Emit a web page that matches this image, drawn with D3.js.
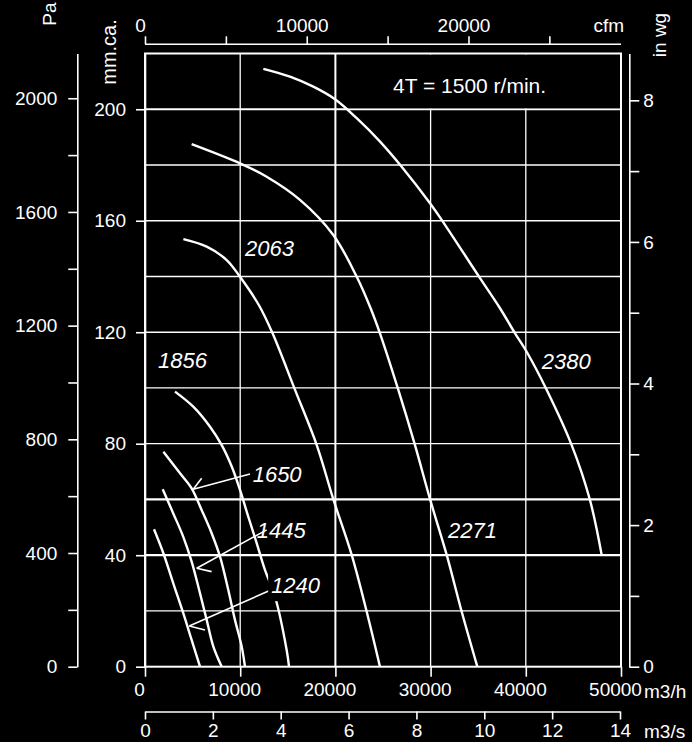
<!DOCTYPE html>
<html>
<head>
<meta charset="utf-8">
<script src="https://cdn.jsdelivr.net/npm/d3@7"></script>
<style>
body { margin: 0; background: #000; }
svg text { fill: #fff; font-family: "Liberation Sans", Arial, sans-serif; }
</style>
</head>
<body>
<div id="graph"></div>
<script>
// fan curves: [flow m3/h, pressure mm.ca.]
var curve_1240 = [[945,49.3],[1930,40.7],[2970,29.9],[4020,19.2],[4900,9.6],[5780,0]];
var curve_1445 = [[1860,63.7],[2970,55],[4020,46.6],[4900,37.7],[5780,26.3],[6480,16.8],[7180,7.2],[8060,0]];
var curve_1650 = [[1930,77.1],[3680,69.4],[4900,64],[5950,56.2],[7000,47.9],[7880,39.5],[8750,27.5],[9450,16.8],[10160,7.2],[10500,0]];
var curve_1856 = [[3150,98.7],[5070,93.3],[6830,86.1],[8060,79.5],[9110,71.8],[9980,63.4],[10850,53.8],[11730,44.3],[12600,34.7],[13660,25.1],[14880,6],[15130,0]];
var curve_2063 = [[4030,153.4],[6480,150.7],[8580,145.9],[9980,139.9],[12000,129.5],[13400,119.6],[15760,99.3],[18040,79.5],[19780,60.1],[21710,40.1],[23290,19.7],[24680,0]];
var curve_2271 = [[4900,187.5],[9980,180.6],[12780,175.8],[16280,167.5],[19780,154.9],[22240,139.9],[23700,128.6],[24680,119.6],[26610,99.3],[28360,79.5],[29940,60.1],[31690,40.1],[33270,19.7],[34910,0]];
var curve_2380 = [[12430,214.5],[15230,211.7],[17680,208.1],[19960,203.6],[22240,196.8],[24690,188.4],[26960,179.4],[29940,166.3],[31160,160.3],[35190,139.4],[37290,128.6],[38870,119.6],[40090,113],[42200,99.3],[44820,79.5],[46740,59.8],[47970,40.1]];

var curves = [curve_1240, curve_1445, curve_1650, curve_1856, curve_2063, curve_2271, curve_2380];
var speeds = ["1240", "1445", "1650", "1856", "2063", "2271", "2380"];
// where each speed label sits (text start, baseline), in m3/h and mm.ca.
var label_at = [[13250,26.4],[11750,46.3],[11310,66.4],[1360,107.3],[10500,147.4],[31830,46.2],[41680,106.7]];

// leader lines for the three small curves: start, tip, barb
var arrow_from = [[14000,28.7],[12780,49.1],[11030,69.1]];
var arrow_tip = [[4650,14.6],[5430,35.3],[5070,63.7]];
var arrow_barb = [[6300,13.2],[7000,34.1],[5950,67.6]];

var title = "4T = 1500 r/min.";

var flow_ticks = [0, 10000, 20000, 30000, 40000, 50000];
var mm_ticks = [0, 40, 80, 120, 160, 200];
var grid_h = [20, 40, 60, 80, 100, 120, 140, 160, 180, 200];
var grid_v = [10000, 20000, 30000, 40000];
var pa_ticks = d3.range(0, 2001, 200);
var inwg_ticks = d3.range(0, 9, 1);
var cfm_ticks = d3.range(0, 25001, 5000);
var m3s_ticks = d3.range(0, 15, 2);

var width = 692, height = 742;
var svg = d3.select('#graph').append('svg')
  .attr('width', width)
  .attr('height', height);

svg.append('rect').attr('width', width).attr('height', height).attr('fill', '#000');

var x = d3.scaleLinear().domain([0, 50000]).range([145, 621]);
var y = d3.scaleLinear().domain([0, 220]).range([666.7, 53.5]);
var x_cfm = d3.scaleLinear().domain([0, 50000 / 1.699]).range(x.range());
var x_m3s = d3.scaleLinear().domain([0, 14]).range([145, 620]);
var y_pa = d3.scaleLinear().domain([0, 220 * 9.80665]).range(y.range());
var y_inwg = d3.scaleLinear().domain([0, 220 / 25.4]).range(y.range());

var thick_h = [40, 60, 200];

// grid
svg.append('g').selectAll('line')
  .data(grid_h)
  .enter().append('line')
    .attr('x1', x(0)).attr('x2', x(50000))
    .attr('y1', function (d) { return y(d); })
    .attr('y2', function (d) { return y(d); })
    .attr('stroke', '#fff')
    .attr('stroke-width', function (d) { return thick_h.indexOf(d) >= 0 ? 2.2 : 1.3; });

svg.append('g').selectAll('line')
  .data(grid_v)
  .enter().append('line')
    .attr('x1', function (d) { return x(d); })
    .attr('x2', function (d) { return x(d); })
    .attr('y1', y(0)).attr('y2', y(220))
    .attr('stroke', '#fff')
    .attr('stroke-width', function (d) { return d === 20000 ? 2 : 1.3; });

// black panel behind the title
svg.append('rect')
  .attr('x', x(21000)).attr('y', y(220) + 1)
  .attr('width', x(50000) - x(21000) - 1)
  .attr('height', y(200) - y(220) - 2)
  .attr('fill', '#000');

svg.append('text')
  .attr('x', 393).attr('y', 93)
  .style('font-size', '21px')
  .text(title);

// plot frame
svg.append('rect')
  .attr('x', x(0)).attr('y', y(220))
  .attr('width', x(50000) - x(0))
  .attr('height', y(0) - y(220))
  .attr('fill', 'none')
  .attr('stroke', '#fff')
  .attr('stroke-width', 2);

// curves
var line = d3.line()
  .x(function (d) { return x(d[0]); })
  .y(function (d) { return y(d[1]); })
  .curve(d3.curveCatmullRom.alpha(0.5));

svg.append('g').selectAll('path')
  .data(curves)
  .enter().append('path')
    .attr('d', line)
    .attr('fill', 'none')
    .attr('stroke', '#fff')
    .attr('stroke-width', 2.4);

// leaders
var leaders = svg.append('g').attr('stroke', '#fff').attr('stroke-width', 1.6);
arrow_from.forEach(function (f, i) {
  var t = arrow_tip[i], b = arrow_barb[i];
  leaders.append('line')
    .attr('x1', x(f[0])).attr('y1', y(f[1]))
    .attr('x2', x(t[0])).attr('y2', y(t[1]));
  leaders.append('line')
    .attr('x1', x(t[0])).attr('y1', y(t[1]))
    .attr('x2', x(b[0])).attr('y2', y(b[1]));
});

// speed labels (1240 sits on a black patch that cuts the grid)
var labels = svg.append('g');
labels.selectAll('rect')
  .data([0])
  .enter().append('rect')
    .attr('x', x(label_at[0][0]) - 3)
    .attr('y', y(label_at[0][1]) - 27)
    .attr('width', 58).attr('height', 35)
    .attr('fill', '#000');

labels.selectAll('text')
  .data(speeds)
  .enter().append('text')
    .attr('x', function (d, i) { return x(label_at[i][0]); })
    .attr('y', function (d, i) { return y(label_at[i][1]); })
    .style('font-size', '22px')
    .style('font-style', 'italic')
    .text(function (d) { return d; });

function paint(g) {
  g.selectAll('.domain').attr('stroke', '#fff').attr('stroke-width', 1.6);
  g.selectAll('.tick line').attr('stroke', '#fff').attr('stroke-width', 1.6);
  g.selectAll('text')
    .attr('fill', '#fff')
    .style('font-family', '"Liberation Sans", Arial, sans-serif')
    .style('font-size', '19px');
}

var plain = d3.format('d');

// Pa axis
svg.append('g')
  .attr('transform', 'translate(77.3,0)')
  .call(d3.axisLeft(y_pa).tickValues(pa_ticks).tickSize(9).tickSizeOuter(0).tickPadding(11)
    .tickFormat(function (d) { return d % 400 === 0 ? plain(d) : ''; }))
  .call(paint);

// mm.ca. axis
svg.append('g')
  .attr('transform', 'translate(' + x(0) + ',0)')
  .call(d3.axisLeft(y).tickValues(mm_ticks).tickSize(9).tickSizeOuter(0).tickPadding(10))
  .call(paint);

// in wg axis
svg.append('g')
  .attr('transform', 'translate(629.3,0)')
  .call(d3.axisRight(y_inwg).tickValues(inwg_ticks).tickSize(10).tickSizeOuter(0).tickPadding(4)
    .tickFormat(function (d) { return d % 2 === 0 ? d : ''; }))
  .call(paint);

// m3/h axis
var g_flow = svg.append('g')
  .attr('transform', 'translate(0,' + y(0) + ')')
  .call(d3.axisBottom(x).tickValues(flow_ticks).tickSize(10).tickSizeOuter(0).tickPadding(6)
    .tickFormat(plain))
  .call(paint);
g_flow.selectAll('text').attr('x', -6);
g_flow.select('.domain').remove();

// cfm axis
var g_cfm = svg.append('g')
  .attr('transform', 'translate(0,44.3)')
  .call(d3.axisTop(x_cfm).tickValues(cfm_ticks).tickSize(8).tickSizeOuter(0).tickPadding(4)
    .tickFormat(function (d) { return d % 10000 === 0 ? plain(d) : ''; }))
  .call(paint);
g_cfm.selectAll('text').attr('x', -5);
g_cfm.select('.domain').attr('d', 'M' + x(0) + ',0H' + x(50000));

// m3/s axis
svg.append('g')
  .attr('transform', 'translate(0,711.5)')
  .call(d3.axisBottom(x_m3s).tickValues(m3s_ticks).tickSize(8).tickSizeOuter(0).tickPadding(4))
  .call(paint);

// unit names
svg.append('text').attr('x', 644).attr('y', 698).style('font-size', '19px').text('m3/h');
svg.append('text').attr('x', 644).attr('y', 738).style('font-size', '19px').text('m3/s');
svg.append('text').attr('x', 624).attr('y', 32).attr('text-anchor', 'end').style('font-size', '19px').text('cfm');

svg.append('text')
  .attr('transform', 'translate(49,14) rotate(-90)')
  .attr('text-anchor', 'middle').attr('dy', '0.35em')
  .style('font-size', '19px').text('Pa');
svg.append('text')
  .attr('transform', 'translate(109,52) rotate(-90)')
  .attr('text-anchor', 'middle').attr('dy', '0.35em')
  .style('font-size', '20px').text('mm.ca.');
svg.append('text')
  .attr('transform', 'translate(659,35) rotate(-90)')
  .attr('text-anchor', 'middle').attr('dy', '0.35em')
  .style('font-size', '19px').text('in wg');
</script>
</body>
</html>
